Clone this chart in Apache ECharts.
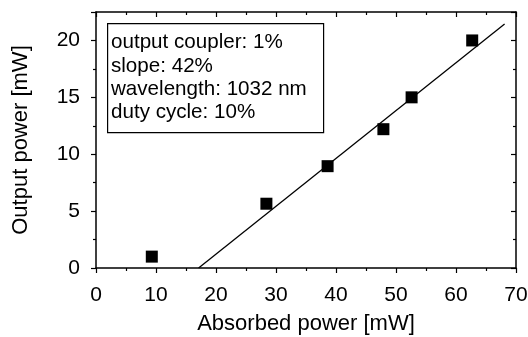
<!DOCTYPE html>
<html><head><meta charset="utf-8">
<script src="https://cdn.jsdelivr.net/npm/echarts@6/dist/echarts.min.js"></script>
<style>html,body{margin:0;padding:0;background:#fff}#c{width:528px;height:337px}</style>
</head><body><div id="c"></div>
<script>
var absorbedPower = [9.3, 28.4, 38.6, 47.9, 52.6, 62.7];
var outputPower = [1.0, 5.65, 8.95, 12.2, 15.0, 20.0];
var fitX = [17.1, 68.1];
var fitY = [0, 21.45];
var xTicks = [0, 10, 20, 30, 40, 50, 60, 70];
var yTicks = [0, 5, 10, 15, 20];
var infoLines = ['output coupler: 1%', 'slope: 42%', 'wavelength: 1032 nm', 'duty cycle: 10%'];
var xTitle = 'Absorbed power [mW]';
var yTitle = 'Output power [mW]';

var FONT = '"Liberation Sans", Arial, sans-serif';
var chart = echarts.init(document.getElementById('c'), null, {renderer: 'canvas'});
var axLine = {show: true, onZero: false, lineStyle: {color: '#000', width: 1.5}};
function mainAxis(extra) {
  return Object.assign({
    axisLine: axLine,
    axisTick: {show: true, inside: false, length: 5, lineStyle: {color: '#000', width: 1.2}},
    minorTick: {show: true, splitNumber: 2, length: 3, lineStyle: {color: '#000', width: 1.2}},
    splitLine: {show: false},
    minorSplitLine: {show: false}
  }, extra);
}
function mirrorAxis(extra) {
  return Object.assign({
    axisLine: axLine,
    axisTick: {show: true, inside: true, length: 5, lineStyle: {color: '#000', width: 1.2}},
    minorTick: {show: true, splitNumber: 2, length: 3, lineStyle: {color: '#000', width: 1.2}},
    splitLine: {show: false},
    axisLabel: {show: false}
  }, extra);
}
var option = {
  animation: false,
  backgroundColor: '#fff',
  grid: {left: 96, right: 12, top: 12, bottom: 69, containLabel: false, outerBoundsMode: 'none'},
  xAxis: [
    mainAxis({type: 'value', position: 'bottom', min: xTicks[0], max: xTicks[xTicks.length - 1], interval: 10,
      name: xTitle, nameLocation: 'middle', nameGap: 45,
      nameTextStyle: {color: '#000', fontFamily: FONT, fontSize: 22},
      axisLabel: {color: '#000', fontFamily: FONT, fontSize: 21, margin: 17}}),
    mirrorAxis({type: 'value', position: 'top', min: xTicks[0], max: xTicks[xTicks.length - 1], interval: 10})
  ],
  yAxis: [
    mainAxis({type: 'value', position: 'left', min: 0, max: 22.5, interval: 5,
      name: yTitle, nameLocation: 'middle', nameGap: 64,
      nameTextStyle: {color: '#000', fontFamily: FONT, fontSize: 22},
      axisLabel: {color: '#000', fontFamily: FONT, fontSize: 21, margin: 16,
        formatter: function (v) { return yTicks.indexOf(v) >= 0 ? String(v) : ''; }}}),
    mirrorAxis({type: 'value', position: 'right', min: 0, max: 22.5, interval: 5})
  ],
  series: [
    {type: 'line', xAxisIndex: 0, yAxisIndex: 0, symbol: 'none',
      lineStyle: {color: '#000', width: 1.3},
      data: fitX.map(function (x, i) { return [x, fitY[i]]; }), z: 2},
    {type: 'scatter', xAxisIndex: 0, yAxisIndex: 0, symbol: 'rect', symbolSize: 12,
      itemStyle: {color: '#000', opacity: 1},
      data: absorbedPower.map(function (x, i) { return [x, outputPower[i]]; }), z: 3}
  ],
  graphic: [
    {type: 'rect', left: 107, top: 23, shape: {x: 0, y: 0, width: 216, height: 109},
      style: {fill: '#fff', stroke: '#000', lineWidth: 1.2}, z: 10},
    {type: 'text', left: 111, top: 31, z: 11,
      style: {text: infoLines.join('\n'), font: '20.6px ' + FONT, fill: '#000', lineHeight: 23.3}}
  ]
};
chart.setOption(option);
</script></body></html>
